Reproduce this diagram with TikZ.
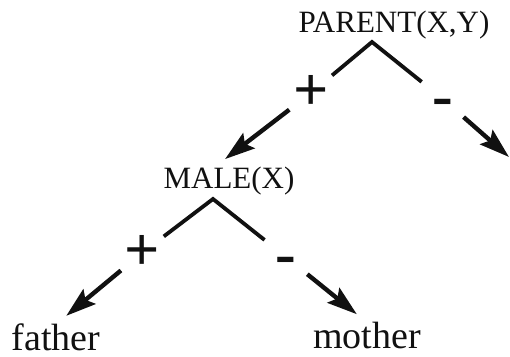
\documentclass[tikz,border=0pt]{standalone}
\usepackage{fontspec}
\setmainfont{Liberation Serif}
\usetikzlibrary{arrows.meta}
\definecolor{ink}{HTML}{111111}
\tikzset{
  testnode/.style={inner sep=4pt,anchor=base,text=ink,
                   font=\fontsize{15.5}{18}\selectfont},
  leafnode/.style={inner sep=4pt,anchor=base,text=ink,
                   font=\fontsize{19}{22}\selectfont},
  signnode/.style={circle,inner sep=0pt,minimum size=27pt,text=ink,
                   font=\fontsize{31}{31}\selectfont\bfseries},
  branchline/.style={draw=ink,line width=1.9pt},
  brancharr/.style={-{Stealth[length=15pt,width=9.5pt,inset=2.5pt]},draw=ink,line width=2.2pt}
}

\begin{document}
\begin{tikzpicture}[x=0.5pt,y=-0.5pt]
  \useasboundingbox (0,0) rectangle (510,357);

  % tests and leaves
  \node[testnode] (parent) at (394,33) {PARENT(X,Y)};
  \node[testnode] (male) at (229,189) {MALE(X)};
  \node[leafnode] (father) at (56,351) {father};
  \node[leafnode] (mother) at (367,349) {mother};

  \coordinate (ptop) at (372,42);
  \coordinate (mtop) at (213,199);
  \coordinate (pright) at (509,157);

  % branch signs
  \node[signnode] (pplus) at (311,93) {+};
  \node[signnode] (pminus) at (443,99) {\vphantom{+}-};
  \node[signnode] (mplus) at (142,253) {+};
  \node[signnode] (mminus) at (286,257) {\vphantom{+}-};

  \draw[branchline] (pplus) -- (ptop) -- (pminus);
  \draw[branchline] (mplus) -- (mtop) -- (mminus);

  \draw[brancharr] (pplus) -- (male.100);
  \draw[brancharr] (pminus) -- (pright);
  \draw[brancharr] (mplus) -- (father.65);
  \draw[brancharr] (mminus) -- (mother.115);
\end{tikzpicture}
\end{document}
